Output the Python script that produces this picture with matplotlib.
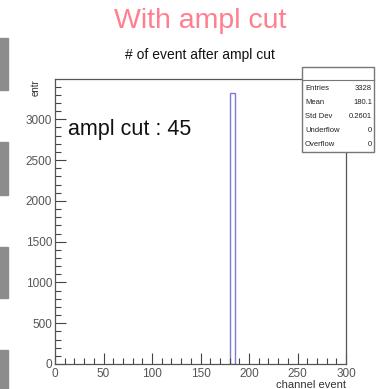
import matplotlib
matplotlib.use("Agg")
import matplotlib.pyplot as plt
from matplotlib.ticker import MultipleLocator
from matplotlib.patches import Rectangle

plt.rcParams['font.family'] = ['Liberation Sans', 'DejaVu Sans']

# histogram content
bin_edges = [180, 186]
counts = [3328]
x_range = (0, 300)
stats_names = ["Entries", "Mean", "Std Dev", "Underflow", "Overflow"]
stats_values = ["3328", "180.1", "0.2601", "0", "0"]
cut_value = 45

W, H = 384, 389
fig = plt.figure(figsize=(W / 100, H / 100), dpi=100)

def fx(px):
    return px / W

def fy(py):
    return 1 - py / H

# side strips of the slide background
for y0, y1 in [(38, 90), (142, 195), (247, 298), (350, 389)]:
    fig.patches.append(Rectangle((0, fy(y1)), fx(8), fy(y0) - fy(y1),
                                 transform=fig.transFigure, color='#8c8c8c', zorder=0))

ax = fig.add_axes([fx(55), fy(364), fx(346) - fx(55), fy(79) - fy(364)])

ax.bar(bin_edges[0], counts[0], width=bin_edges[1] - bin_edges[0], align='edge',
       fill=False, edgecolor='#7b7bd6', linewidth=1.0)

ax.set_xlim(*x_range)
ax.set_ylim(0, max(counts) * 1.05)

ax.xaxis.set_major_locator(MultipleLocator(50))
ax.xaxis.set_minor_locator(MultipleLocator(10))
ax.yaxis.set_major_locator(MultipleLocator(500))
ax.yaxis.set_minor_locator(MultipleLocator(100))
ax.tick_params(which='both', direction='in', colors='#444444', labelcolor='#555555',
               labelsize=8.5, top=False, right=False)
ax.tick_params(which='major', length=8, width=0.8)
ax.tick_params(which='minor', length=4, width=0.8)
ax.tick_params(axis='x', pad=3)
ax.tick_params(axis='y', pad=2)
for s in ax.spines.values():
    s.set_color('#555555')
    s.set_linewidth(0.9)

ax.set_ylabel('entr', fontsize=7, color='#333333', loc='top')
ax.yaxis.set_label_coords(-0.05, 1.0)
ax.set_xlabel('channel event', fontsize=8, color='#333333', loc='right', labelpad=0)

ax.text(0.045, 0.805, f'ampl cut : {cut_value}', transform=ax.transAxes,
        fontsize=15.5, color='#111111', va='baseline')

fig.text(fx(200), fy(21), 'With ampl cut', fontsize=20.5, color='#ff7f8f',
         ha='center', va='center')
fig.text(fx(200), fy(55), '# of event after ampl cut', fontsize=10,
         color='#111111', ha='center', va='center')

# stats box
bx0, bx1, by0, by1 = 302, 374, 67, 152
fig.patches.append(Rectangle((fx(bx0), fy(by1)), fx(bx1) - fx(bx0), fy(by0) - fy(by1),
                             transform=fig.transFigure, facecolor='white',
                             edgecolor='#777777', linewidth=1.0, zorder=5))
fig.lines.append(plt.Line2D([fx(bx0), fx(bx1)], [fy(80), fy(80)],
                            transform=fig.transFigure, color='#777777', lw=0.8, zorder=6))
row_y = [89, 103, 117, 131, 145]
for name, val, ry in zip(stats_names, stats_values, row_y):
    fig.text(fx(bx0 + 3), fy(ry), name, fontsize=5.5, color='#222222',
             ha='left', va='center', zorder=7)
    fig.text(fx(bx1 - 2), fy(ry), val, fontsize=5.5, color='#222222',
             ha='right', va='center', zorder=7)

fig.savefig('out.png', dpi=100)
